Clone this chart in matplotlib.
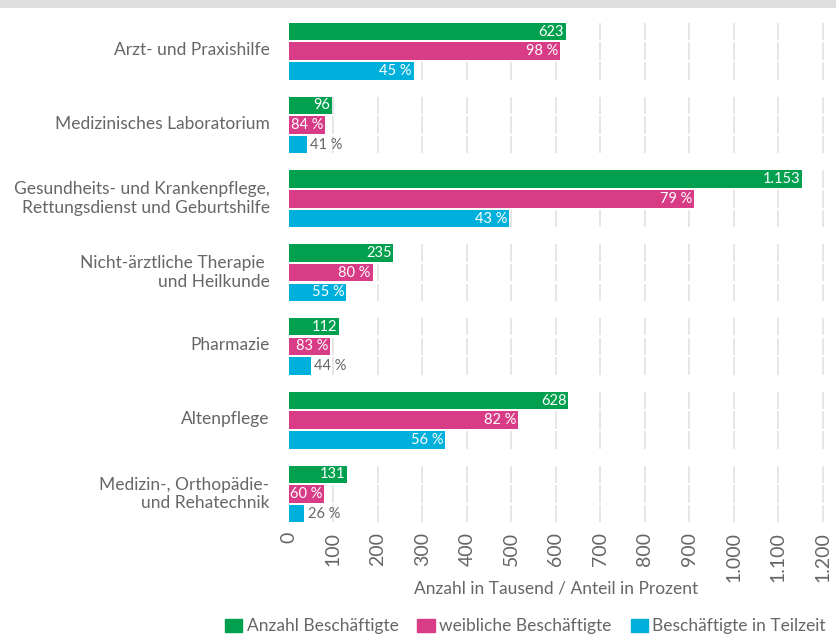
import matplotlib.pyplot as plt
from matplotlib.patches import Patch, Rectangle
import numpy as np

plt.rcParams['font.family'] = ['Lato', 'DejaVu Sans']

categories = [
    "Arzt- und Praxishilfe",
    "Medizinisches Laboratorium",
    "Gesundheits- und Krankenpflege,\nRettungsdienst und Geburtshilfe",
    "Nicht-ärztliche Therapie \nund Heilkunde",
    "Pharmazie",
    "Altenpflege",
    "Medizin-, Orthopädie-\nund Rehatechnik",
]
anzahl = [623, 96, 1153, 235, 112, 628, 131]          # in Tausend
weiblich_pct = [98, 84, 79, 80, 83, 82, 60]          # Anteil in %
teilzeit_pct = [45, 41, 43, 55, 44, 56, 26]          # Anteil in %
xticks = [0, 100, 200, 300, 400, 500, 600, 700, 800, 900, 1000, 1100, 1200]
xtick_labels = ["0", "100", "200", "300", "400", "500", "600", "700",
                "800", "900", "1.000", "1.100", "1.200"]

green = '#00a04f'
pink = '#d83c86'
blue = '#00b0dc'
grey_txt = '#666666'

anzahl = np.array(anzahl, dtype=float)
weiblich = anzahl * np.array(weiblich_pct) / 100
teilzeit = anzahl * np.array(teilzeit_pct) / 100

fig = plt.figure(figsize=(8.36, 6.35), dpi=100)
# grey band at the top
fig.add_artist(Rectangle((0, 1 - 8 / 635), 1, 8 / 635, transform=fig.transFigure,
                         color='#dedede', lw=0))

ax = fig.add_axes([289 / 836, 110 / 635, 538 / 836, 507 / 635])

y = np.arange(len(categories))
pitch = 0.267
h = 0.237
series = [(anzahl, green, [f"{v:,.0f}".replace(",", ".") for v in anzahl]),
          (weiblich, pink, [f"{p} %" for p in weiblich_pct]),
          (teilzeit, blue, [f"{p} %" for p in teilzeit_pct])]

# segmented grid lines
for k in range(3):
    yy = y + (k - 1) * pitch
    for t in xticks[1:]:
        ax.vlines([t] * len(yy), yy - h / 2, yy + h / 2, color='#e2e2e2', lw=1.2, zorder=0)

for k, (vals, col, labels) in enumerate(series):
    yy = y + (k - 1) * pitch
    ax.barh(yy, vals, height=h, color=col, zorder=2)
    for yi, v, lab in zip(yy, vals, labels):
        if v > 60:
            ax.text(v - 4, yi, lab, ha='right', va='center', color='white',
                    fontsize=10.5, zorder=3)
        else:
            ax.text(v + 8, yi, lab, ha='left', va='center', color=grey_txt,
                    fontsize=10.5, zorder=3)

ax.set_xlim(0, 1210)
ax.set_ylim(6.42, -0.45)
ax.set_yticks(y - 0.04)
ax.set_yticklabels(categories, fontsize=12.5, color=grey_txt)
ax.set_xticks(xticks)
ax.set_xticklabels(xtick_labels, rotation=90, fontsize=14, color=grey_txt,
                   va='top')
ax.tick_params(length=0)
ax.tick_params(axis='x', pad=5)
ax.tick_params(axis='y', pad=14)
for s in ax.spines.values():
    s.set_visible(False)
fig.text(556 / 836, 1 - 588 / 635, "Anzahl in Tausend / Anteil in Prozent",
         fontsize=12.5, color=grey_txt, ha='center', va='center')

handles = [Patch(color=green, label="Anzahl Beschäftigte"),
           Patch(color=pink, label="weibliche Beschäftigte"),
           Patch(color=blue, label="Beschäftigte in Teilzeit")]
leg = fig.legend(handles=handles, loc='lower right', ncol=3, frameon=False,
                 bbox_to_anchor=(838 / 836, -0.018), fontsize=12.5, handlelength=1.0,
                 handleheight=0.8, handletextpad=0.25, columnspacing=1.1,
                 borderpad=0.2)
for t in leg.get_texts():
    t.set_color(grey_txt)

plt.savefig("out.png", dpi=100)
plt.close(fig)
